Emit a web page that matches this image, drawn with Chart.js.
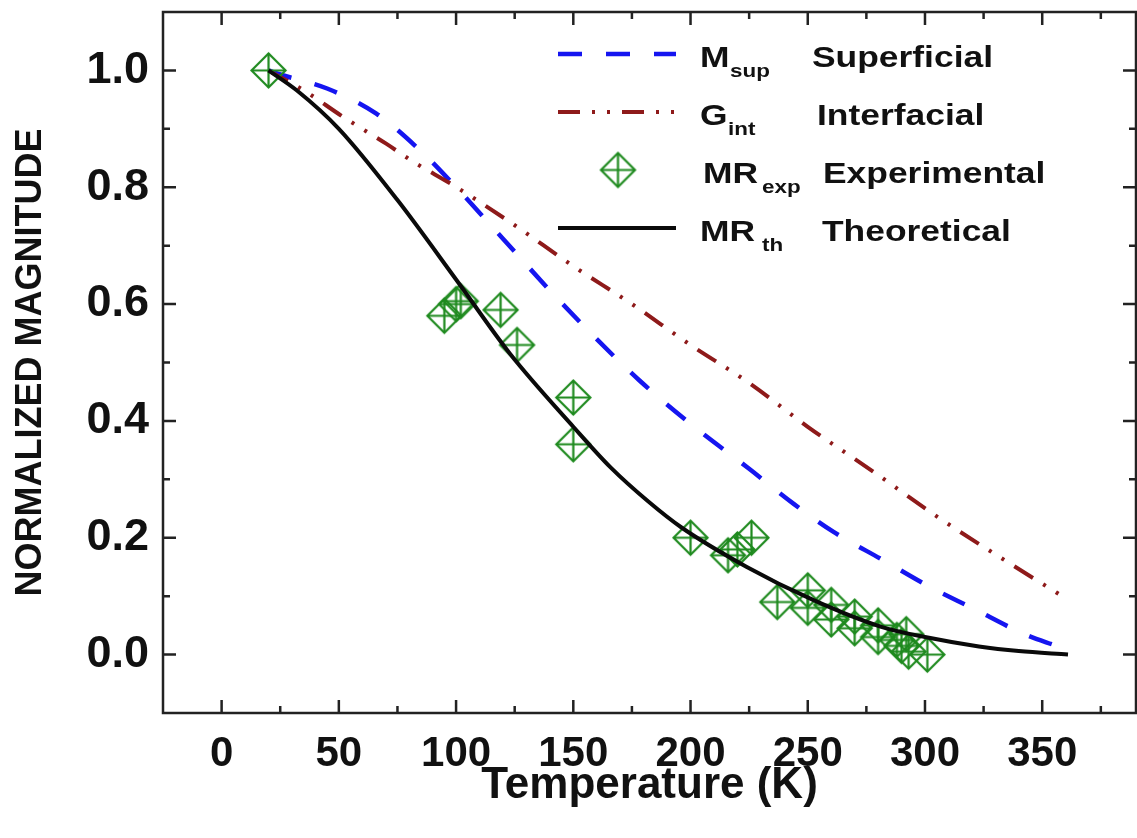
<!DOCTYPE html>
<html><head><meta charset="utf-8">
<script src="https://cdn.jsdelivr.net/npm/chart.js@4/dist/chart.umd.min.js"></script>
<style>html,body{margin:0;padding:0;background:#fff;} #wrap{width:1137px;height:838px;position:relative;}</style>
</head><body><div id="wrap"><canvas id="c" width="1137" height="838"></canvas></div>
<script>
// ---- data ----
const xTicks = [0, 50, 100, 150, 200, 250, 300, 350];
const yTicks = [0.0, 0.2, 0.4, 0.6, 0.8, 1.0];

const supT = [20, 25, 45, 66, 86, 100, 120, 141, 160, 178, 200, 225, 244, 261, 282, 302, 320, 343, 356];
const supV = [1.0, 0.993, 0.969, 0.926, 0.858, 0.80, 0.712, 0.619, 0.54, 0.47, 0.395, 0.318, 0.258, 0.21, 0.162, 0.116, 0.08, 0.034, 0.015];

const intT = [20, 35, 52, 70, 82, 99, 125, 150, 175, 200, 225, 250, 278, 306, 335, 361];
const intV = [1.0, 0.966, 0.92, 0.875, 0.843, 0.803, 0.735, 0.665, 0.60, 0.53, 0.465, 0.39, 0.313, 0.234, 0.159, 0.094];

const thT = [20, 32, 50, 75, 100, 123, 150, 166, 182, 196, 224, 252, 281, 300, 323, 340, 361];
const thV = [1.0, 0.966, 0.90, 0.778, 0.642, 0.515, 0.39, 0.32, 0.262, 0.218, 0.15, 0.094, 0.048, 0.03, 0.014, 0.006, 0.0];

const expT = [20, 95, 100, 102, 119, 126, 150, 150, 200, 216, 220, 226, 237, 250, 250, 260, 260, 270, 270, 280, 280, 288, 290, 292, 293, 301];
const expV = [1.0, 0.58, 0.60, 0.605, 0.59, 0.53, 0.44, 0.36, 0.20, 0.17, 0.18, 0.20, 0.09, 0.11, 0.08, 0.085, 0.06, 0.065, 0.045, 0.05, 0.03, 0.025, 0.015, 0.035, 0.005, 0.0];

const legendRows = [
  {main: 'M',  sub: 'sup', label: 'Superficial'},
  {main: 'G',  sub: 'int', label: 'Interfacial'},
  {main: 'MR', sub: 'exp', label: 'Experimental'},
  {main: 'MR', sub: 'th',  label: 'Theoretical'}
];

// ---- styles ----
const BLUE = '#1515f0', RED = '#8e1a1a', GREEN = '#1e8a1e', BLACK = '#0a0a0a';
const FONT = "'Liberation Sans', Arial, sans-serif";

function makeMarker(r, color, lw) {
  const s = Math.ceil(2 * r + lw * 2 + 2);
  const c = document.createElement('canvas');
  c.width = s; c.height = s;
  const g = c.getContext('2d');
  const m = s / 2;
  g.strokeStyle = color; g.lineWidth = lw; g.lineJoin = 'miter';
  g.beginPath();
  g.moveTo(m, m - r); g.lineTo(m + r, m); g.lineTo(m, m + r); g.lineTo(m - r, m); g.closePath();
  g.stroke();
  g.beginPath();
  g.moveTo(m, m - r); g.lineTo(m, m + r);
  g.moveTo(m - r, m); g.lineTo(m + r, m);
  g.stroke();
  return c;
}
const marker = makeMarker(17, GREEN, 2.2);

const pts = (xs, ys) => xs.map((x, i) => ({x: x, y: ys[i]}));

function zeroPad(s) { s.paddingTop = 0; s.paddingBottom = 0; s.paddingLeft = 0; s.paddingRight = 0; }

const framePlugin = {
  id: 'frame',
  afterDraw(chart) {
    const {ctx, chartArea: a, scales: {x, y}} = chart;
    ctx.save();
    ctx.strokeStyle = '#222';
    ctx.lineWidth = 2.5;
    ctx.strokeRect(a.left, a.top, a.right - a.left, a.bottom - a.top);
    const major = 13, minor = 7;
    ctx.beginPath();
    for (let v = -25; v <= 390; v += 25) {
      const px = x.getPixelForValue(v);
      if (px <= a.left + 1 || px >= a.right - 1) continue;
      const len = (v % 50 === 0) ? major : minor;
      ctx.moveTo(px, a.bottom); ctx.lineTo(px, a.bottom - len);
      ctx.moveTo(px, a.top); ctx.lineTo(px, a.top + len);
    }
    for (let k = -1; k <= 11; k++) {
      const v = k / 10;
      const py = y.getPixelForValue(v);
      if (py <= a.top + 1 || py >= a.bottom - 1) continue;
      const len = (k % 2 === 0) ? major : minor;
      ctx.moveTo(a.left, py); ctx.lineTo(a.left + len, py);
      ctx.moveTo(a.right, py); ctx.lineTo(a.right - len, py);
    }
    ctx.stroke();
    ctx.restore();
  }
};

const legendPlugin = {
  id: 'customLegend',
  afterDraw(chart) {
    const ctx = chart.ctx;
    const x0 = 558, x1 = 676, yStart = 54, dy = 58;
    const textX = [700, 700, 703, 700];
    const subX = [730, 728, 762, 762];
    const labX = [812, 817, 823, 822];
    ctx.save();
    legendRows.forEach((row, i) => {
      const yy = yStart + i * dy;
      const ds = chart.data.datasets[i];
      if (i === 2) {
        ctx.drawImage(marker, 618 - marker.width / 2, yy - marker.height / 2);
      } else {
        ctx.beginPath();
        ctx.strokeStyle = ds.borderColor;
        ctx.lineWidth = ds.borderWidth;
        ctx.setLineDash(ds.borderDash || []);
        ctx.moveTo(x0, yy); ctx.lineTo(x1, yy);
        ctx.stroke();
        ctx.setLineDash([]);
      }
      ctx.fillStyle = '#111';
      ctx.textBaseline = 'alphabetic';
      ctx.textAlign = 'left';
      const base = yy + 13;
      const sx = 1.18;
      ctx.save(); ctx.translate(textX[i], base); ctx.scale(sx, 1);
      ctx.font = 'bold 30px ' + FONT; ctx.fillText(row.main, 0, 0); ctx.restore();
      ctx.save(); ctx.translate(subX[i], base + 10); ctx.scale(sx, 1);
      ctx.font = 'bold 19px ' + FONT; ctx.fillText(row.sub, 0, 0); ctx.restore();
      ctx.save(); ctx.translate(labX[i], base); ctx.scale(sx, 1);
      ctx.font = 'bold 30px ' + FONT; ctx.fillText(row.label, 0, 0); ctx.restore();
    });
    ctx.restore();
  }
};

new Chart(document.getElementById('c'), {
  type: 'scatter',
  data: {
    datasets: [
      {label: 'M_sup Superficial', data: pts(supT, supV), showLine: true, borderColor: BLUE, borderWidth: 4.5,
       borderDash: [24, 24], pointRadius: 0, cubicInterpolationMode: 'monotone', order: 3},
      {label: 'G_int Interfacial', data: pts(intT, intV), showLine: true, borderColor: RED, borderWidth: 4,
       borderDash: [22, 12, 3, 12, 3, 12], pointRadius: 0, cubicInterpolationMode: 'monotone', order: 2},
      {label: 'MR_exp Experimental', data: pts(expT, expV), showLine: false, pointStyle: marker,
       pointRadius: 17, borderColor: GREEN, backgroundColor: GREEN, order: 1},
      {label: 'MR_th Theoretical', data: pts(thT, thV), showLine: true, borderColor: BLACK, borderWidth: 4,
       pointRadius: 0, cubicInterpolationMode: 'monotone', order: 0}
    ]
  },
  options: {
    responsive: false,
    devicePixelRatio: 1,
    animation: false,
    layout: {autoPadding: false, padding: {top: 12, right: 1, left: 0, bottom: 0}},
    plugins: {legend: {display: false}, tooltip: {enabled: false}},
    scales: {
      x: {
        type: 'linear', min: -25, max: 390,
        afterBuildTicks: (s) => { s.ticks = xTicks.map(v => ({value: v})); },
        afterFit: (s) => { s.height = 125; zeroPad(s); },
        grid: {display: false, drawTicks: false},
        border: {display: false},
        ticks: {color: '#111', padding: 16, maxRotation: 0, autoSkip: false,
                font: {family: FONT, weight: 'bold', size: 42}},
        title: {display: true, text: 'Temperature (K)', color: '#111',
                font: {family: FONT, weight: 'bold', size: 44}, padding: {top: 0, bottom: 26}}
      },
      y: {
        type: 'linear', min: -0.1, max: 1.1,
        afterBuildTicks: (s) => { s.ticks = yTicks.map(v => ({value: v})); },
        afterFit: (s) => { s.width = 163; zeroPad(s); },
        grid: {display: false, drawTicks: false},
        border: {display: false},
        ticks: {color: '#111', padding: 14, autoSkip: false,
                font: {family: FONT, weight: 'bold', size: 45},
                callback: (v) => Number(v).toFixed(1)},
        title: {display: true, text: 'NORMALIZED MAGNITUDE', color: '#111',
                font: {family: FONT, weight: 'bold', size: 36}, padding: {top: 9, bottom: 0}}
      }
    }
  },
  plugins: [framePlugin, legendPlugin]
});
</script>
</body></html>
